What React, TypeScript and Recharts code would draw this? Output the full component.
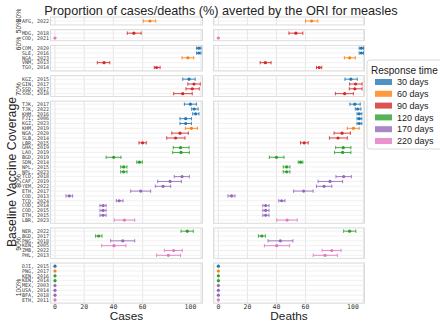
import React from 'react';
import { ScatterChart, Scatter, XAxis, YAxis, ErrorBar, CartesianGrid } from 'recharts';

// coverage groups, top to bottom
const coverageLevels = ['30%', '50%', '60%', '70%', '80%', '90%', '100%'];
const responseTimes = [30, 60, 90, 120, 170, 220];
const responseColors = ['#1f77b4', '#ff7f0e', '#d62728', '#2ca02c', '#9467bd', '#e377c2'];
const xTicks = [0, 20, 40, 60, 80, 100];

const rowLabels = [
  'AFG, 2022',
  'MDG, 2018', 'COD, 2021',
  'COM, 2020', 'SLE, 2016', 'NGA, 2023', 'VNM, 2013', 'TGO, 2014',
  'KGZ, 2015', 'GIN, 2017', 'SSD, 2017', 'SSD, 2018',
  'TJK, 2017', 'TJK, 2022', 'KHM, 2016', 'FJI, 2006', 'KGZ, 2023', 'KHM, 2019', 'NGA, 2020',
  'SLB, 2014', 'LBR, 2015', 'GHA, 2019', 'LAO, 2019', 'BGD, 2019', 'SDN, 2014', 'NPL, 2015',
  'NPL, 2023', 'TCD, 2018', 'CAF, 2019', 'YEM, 2022', 'ETH, 2017', 'COD, 2013', 'TCD, 2024',
  'COD, 2014', 'COD, 2015', 'ETH, 2015', 'LBR, 2023',
  'NER, 2022', 'BGD, 2017', 'PNG, 2018', 'KEN, 2005', 'ZMB, 2022', 'PHL, 2013',
  'DJI, 2015', 'PNG, 2017', 'KEN, 2016', 'KEN, 2014', 'MEX, 2003', 'USA, 2014', 'BFA, 2018', 'ETH, 2011',
];

const rowCoverage = [
  '30%',
  '50%', '50%',
  '60%', '60%', '60%', '60%', '60%',
  '70%', '70%', '70%', '70%',
  '80%', '80%', '80%', '80%', '80%', '80%', '80%', '80%', '80%', '80%', '80%', '80%', '80%',
  '80%', '80%', '80%', '80%', '80%', '80%', '80%', '80%', '80%', '80%', '80%', '80%',
  '90%', '90%', '90%', '90%', '90%', '90%',
  '100%', '100%', '100%', '100%', '100%', '100%', '100%', '100%',
];

const rowResponse = [
  60,
  90, 220,
  30, 30, 60, 90, 90,
  30, 90, 90, 90,
  30, 30, 30, 30, 30, 60, 90, 90, 90, 120, 120, 120, 120, 120,
  120, 170, 170, 170, 170, 170, 170, 170, 170, 170, 220,
  120, 120, 170, 220, 220, 220,
  30, 60, 120, 120, 170, 170, 170, 220,
];

const casesMid = [
  65,
  54, 0,
  98.5, 98.5, 91, 33.6, 69.6,
  91.8, 95.2, 94, 87.5,
  92.7, 95.4, 96.3, 89.5, 89.5, 93.4, 85.6, 82.6, 60, 86, 86.3, 40.2, 57.8, 47,
  47, 87, 78.8, 74, 58.7, 9.8, 44, 32.9, 32.9, 32.9, 47.5,
  90.6, 29.9, 46.4, 40.4, 81.3, 77.6,
  0, 0, 0, 0, 0, 0, 0, 0,
];
const casesLo = [
  60.5,
  49.5, 0,
  97, 97, 87, 29, 68,
  87.5, 91, 89.7, 81.3,
  88.6, 93.6, 94.3, 85.6, 85.6, 89.3, 80, 76.5, 57.5, 81, 80.6, 35, 56, 45,
  45, 81.7, 70.3, 68.7, 51.8, 7.5, 42, 30.8, 30.8, 30.8, 40.6,
  86.3, 27.8, 38.1, 32, 74.9, 69.6,
  0, 0, 0, 0, 0, 0, 0, 0,
];
const casesHi = [
  69,
  59, 0,
  100, 100, 95, 37.5, 72,
  96, 99.5, 98.8, 94,
  96.8, 98, 98.6, 93.4, 93.4, 97.5, 91.3, 89, 62.5, 91.8, 92, 45.2, 59.8, 49.3,
  49.3, 92, 86.5, 79.2, 65.5, 12.1, 46.6, 35, 35, 35, 54.6,
  94.7, 32.2, 54.6, 48.6, 87.2, 86,
  0, 0, 0, 0, 0, 0, 0, 0,
];

const deathsMid = [
  64.2,
  53.4, 0,
  98.5, 98.5, 90.4, 32.4, 69.4,
  91.3, 94.5, 94, 87,
  94, 96, 97, 97, 97, 93, 85.2, 82.4, 59.1, 86, 85.6, 40, 56.6, 47,
  47, 86.3, 76.9, 72.8, 58.7, 9.1, 43.6, 32.6, 32.6, 32.6, 47.3,
  90.4, 29.9, 42.7, 40.2, 78.1, 73.5,
  0, 0, 0, 0, 0, 0, 0, 0,
];
const deathsLo = [
  60,
  48.6, 0,
  97, 97, 86.8, 28.8, 67.6,
  87.2, 90.4, 90.2, 80.6,
  90.6, 94.3, 95.5, 95.5, 95.5, 88.8, 79.7, 76.5, 56.6, 80.8, 80, 35.1, 55, 44.7,
  44.7, 81, 68.7, 67.6, 51.8, 6.6, 41.6, 30.6, 30.6, 30.6, 40.2,
  86.3, 27.6, 34.2, 31.7, 71.5, 65.3,
  0, 0, 0, 0, 0, 0, 0, 0,
];
const deathsHi = [
  68.5,
  58.2, 0,
  100, 100, 94.3, 36.3, 71.2,
  95.7, 99, 99, 93,
  97.7, 98.2, 98.8, 98.8, 98.8, 97, 90.9, 88.8, 61.9, 91.3, 91.3, 45.2, 58.2, 49.3,
  49.3, 91.6, 85.6, 78.1, 65.3, 11.4, 45.9, 34.9, 34.9, 34.9, 54.3,
  94.7, 32.4, 51.4, 49.1, 84.5, 82,
  0, 0, 0, 0, 0, 0, 0, 0,
];

// group label positions (measured, not centred on the panels)
const groupLabelY = [15.5, 26.5, 43.5, 89, 181, 244, 287.5];

const ROW_H = 4.83;
const PAD = 0.75;
const MIN_H = 8;
const GAP = 4.6;
const TOP = 17;
const X_DOMAIN: [number, number] = [-3, 101];
const LEFT_W = 202.5;
const Y_AXIS_W = 50.6;
const RIGHT_X = 213.5;
const RIGHT_W = 151;
const AXIS_H = 12;
const MONO = 'DejaVu Sans Mono, monospace';

type Pt = { x: number; y: number; err: [number, number] | null; rt: number };

function buildPoints(idx: number[], mid: number[], lo: number[], hi: number[]): Pt[] {
  return idx.map((i, k) => ({
    x: mid[i],
    y: k,
    err: hi[i] - lo[i] > 0 ? [mid[i] - lo[i], hi[i] - mid[i]] : null,
    rt: rowResponse[i],
  }));
}

const panels = (() => {
  let top = TOP;
  return coverageLevels.map((cov, g) => {
    const idx = rowCoverage.map((c, i) => (c === cov ? i : -1)).filter((i) => i >= 0);
    const n = idx.length;
    const h = Math.max(n * ROW_H + 2 * PAD, MIN_H);
    const padU = (h - n * ROW_H) / 2 / ROW_H;
    const p = {
      cov,
      g,
      top,
      h,
      labels: idx.map((i) => rowLabels[i]),
      domain: [-0.5 - padU, n - 0.5 + padU] as [number, number],
      cases: buildPoints(idx, casesMid, casesLo, casesHi),
      deaths: buildPoints(idx, deathsMid, deathsLo, deathsHi),
    };
    top += h + GAP;
    return p;
  });
})();

function Panel({ p, points, width, showLabels, last }: any) {
  const ticks = p.labels.map((_: string, i: number) => i);
  return (
    <ScatterChart
      width={width}
      height={p.h + (last ? AXIS_H : 0)}
      margin={{ top: 0, right: 0, bottom: 0, left: 0 }}
    >
      <CartesianGrid horizontal={false} stroke="#dedede" strokeWidth={0.8} />
      <CartesianGrid vertical={false} stroke="#ededed" strokeWidth={0.8} />
      <XAxis
        type="number"
        dataKey="x"
        domain={X_DOMAIN}
        ticks={xTicks}
        allowDataOverflow
        hide={!last}
        height={last ? AXIS_H : 0}
        axisLine={false}
        tickLine={false}
        tickSize={0}
        tickMargin={0}
        tick={(t: any) => (
          <text x={t.x} y={t.y + 6.3} textAnchor="middle" fontFamily={MONO} fontSize={6.5} fill="#3a3a3a">
            {t.payload.value}
          </text>
        )}
      />
      <YAxis
        type="number"
        dataKey="y"
        domain={p.domain}
        ticks={ticks}
        interval={0}
        reversed
        allowDataOverflow
        hide={!showLabels}
        width={showLabels ? Y_AXIS_W : 0}
        axisLine={false}
        tickLine={false}
        tick={(t: any) => (
          <text
            x={Y_AXIS_W - 1.5}
            y={t.y + 1.8}
            textAnchor="end"
            fontFamily={MONO}
            fontSize={5}
            fill="#3a3a3a"
          >
            {p.labels[t.payload.value]}
          </text>
        )}
      />
      {responseTimes.map((rt, k) => {
        const color = responseColors[k];
        return (
          <Scatter
            key={rt}
            data={points.filter((d: Pt) => d.rt === rt)}
            isAnimationActive={false}
            fill={color}
            shape={(s: any) => <circle cx={s.cx} cy={s.cy} r={1.6} fill={color} />}
          >
            <ErrorBar dataKey="err" direction="x" width={1.7} stroke={color} strokeWidth={1} strokeOpacity={0.85} />
          </Scatter>
        );
      })}
    </ScatterChart>
  );
}

export default function App() {
  const lastG = panels.length - 1;
  return (
    <div
      style={{
        position: 'fixed',
        left: 0,
        top: 0,
        width: 440,
        height: 321,
        background: '#fff',
        overflow: 'hidden',
        fontFamily: 'Liberation Sans, Arial, sans-serif',
      }}
    >
      {panels.map((p) => (
        <React.Fragment key={p.cov}>
          <div style={{ position: 'absolute', left: 0, top: p.top }}>
            <Panel p={p} points={p.cases} width={LEFT_W} showLabels last={p.g === lastG} />
          </div>
          <div style={{ position: 'absolute', left: RIGHT_X, top: p.top }}>
            <Panel p={p} points={p.deaths} width={RIGHT_W} showLabels={false} last={p.g === lastG} />
          </div>
        </React.Fragment>
      ))}
      <svg width={440} height={321} style={{ position: 'absolute', left: 0, top: 0, pointerEvents: 'none' }}>
        {panels.map((p) => (
          <g key={p.cov}>
            <rect x={Y_AXIS_W} y={p.top} width={LEFT_W - Y_AXIS_W} height={p.h} fill="none" stroke="#d6d6d6" strokeWidth={0.8} />
            <rect x={RIGHT_X} y={p.top} width={RIGHT_W} height={p.h} fill="none" stroke="#d6d6d6" strokeWidth={0.8} />
            <text
              transform={`translate(20.5, ${groupLabelY[p.g]}) rotate(-90)`}
              textAnchor="middle"
              fontSize={6.8}
              fill="#2a2a2a"
            >
              {p.cov}
            </text>
          </g>
        ))}
        <text x={221} y={14.5} textAnchor="middle" fontSize={12.7} fill="#222">
          Proportion of cases/deaths (%) averted by the ORI for measles
        </text>
        <text transform="translate(15.5, 172) rotate(-90)" textAnchor="middle" fontSize={12.3} fill="#222">
          Baseline Vaccine Coverage
        </text>
        <text x={126.5} y={319.5} textAnchor="middle" fontSize={11.8} fill="#222">
          Cases
        </text>
        <text x={289} y={319.5} textAnchor="middle" fontSize={11.8} fill="#222">
          Deaths
        </text>
        <g>
          <rect x={367} y={60} width={80} height={89} rx={3} fill="#fff" stroke="#d0d0d0" strokeWidth={0.8} />
          <text x={371} y={73.5} fontSize={10} fill="#222">
            Response time
          </text>
          {responseTimes.map((rt, k) => {
            const cy = 82 + k * 11.8;
            return (
              <g key={rt}>
                <rect x={375} y={cy - 3} width={17} height={6} fill={responseColors[k]} fillOpacity={0.8} />
                <text x={397} y={cy + 3.2} fontSize={9} fill="#222">
                  {rt} days
                </text>
              </g>
            );
          })}
        </g>
      </svg>
    </div>
  );
}
